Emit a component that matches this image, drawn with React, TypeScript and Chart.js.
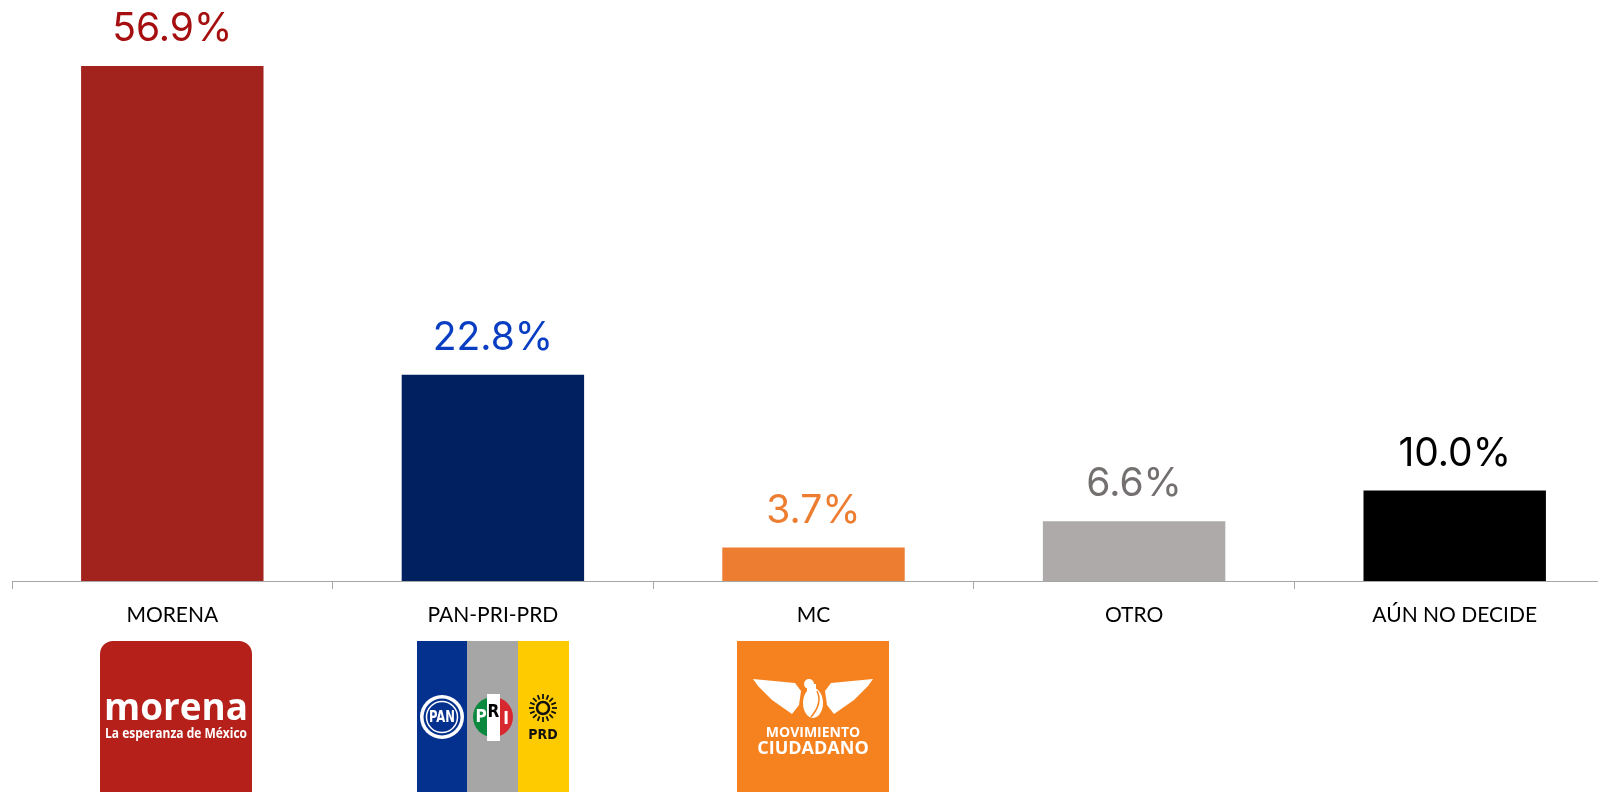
import React, { useEffect, useRef } from "react";
import { Chart, registerables } from "chart.js";

Chart.register(...registerables);

const categories = ["MORENA", "PAN-PRI-PRD", "MC", "OTRO", "AÚN NO DECIDE"];
const values = [56.9, 22.8, 3.7, 6.6, 10.0];
const barColors = ["#a2231e", "#012060", "#ed7d31", "#aeaaaa", "#000000"];
const valueColors = ["#a50f0f", "#0a3ec2", "#ed7d31", "#757070", "#000000"];

const VALUE_FONT = '39px Inter, Roboto, "Noto Sans", sans-serif';

function drawMorena(ctx: CanvasRenderingContext2D) {
  ctx.fillStyle = "#b5211a";
  ctx.beginPath();
  (ctx as any).roundRect(0, 0, 152, 175, 13);
  ctx.fill();
  ctx.fillStyle = "#ffffff";
  ctx.textAlign = "center";
  ctx.textBaseline = "alphabetic";
  ctx.font = 'bold 37px "Open Sans", sans-serif';
  ctx.fillText("morena", 76, 79, 144);
  ctx.font = 'bold 14px "Open Sans", sans-serif';
  ctx.fillText("La esperanza de México", 76, 97, 142);
}

function drawAlliance(ctx: CanvasRenderingContext2D) {
  ctx.fillStyle = "#05318e";
  ctx.fillRect(0, 0, 50, 160);
  ctx.fillStyle = "#a6a6a6";
  ctx.fillRect(50, 0, 51, 160);
  ctx.fillStyle = "#fdcb00";
  ctx.fillRect(101, 0, 51, 160);

  // PAN
  ctx.fillStyle = "#ffffff";
  ctx.beginPath();
  ctx.arc(25, 76, 22, 0, Math.PI * 2);
  ctx.fill();
  ctx.fillStyle = "#05318e";
  ctx.beginPath();
  ctx.arc(25, 76, 18.5, 0, Math.PI * 2);
  ctx.fill();
  ctx.strokeStyle = "#ffffff";
  ctx.lineWidth = 1.5;
  ctx.beginPath();
  ctx.arc(25, 76, 15.5, 0, Math.PI * 2);
  ctx.stroke();
  ctx.fillStyle = "#ffffff";
  ctx.textAlign = "center";
  ctx.textBaseline = "middle";
  ctx.font = 'bold 15px "Liberation Sans Narrow", "DejaVu Sans Condensed", sans-serif';
  ctx.fillText("PAN", 25, 77, 26);

  // PRI
  ctx.save();
  ctx.beginPath();
  ctx.arc(76, 76, 20, 0, Math.PI * 2);
  ctx.clip();
  ctx.fillStyle = "#0b8a3f";
  ctx.fillRect(56, 56, 14, 40);
  ctx.fillStyle = "#ffffff";
  ctx.fillRect(70, 56, 13, 40);
  ctx.fillStyle = "#d8282f";
  ctx.fillRect(83, 56, 14, 40);
  ctx.restore();
  ctx.fillStyle = "#ffffff";
  ctx.fillRect(70, 53, 13, 47);
  ctx.font = 'bold 17px "Liberation Sans Narrow", "DejaVu Sans Condensed", sans-serif';
  ctx.fillStyle = "#ffffff";
  ctx.fillText("P", 64, 77);
  ctx.fillStyle = "#000000";
  ctx.fillText("R", 76.5, 72);
  ctx.fillStyle = "#ffffff";
  ctx.fillText("I", 89, 79);

  // PRD sun
  ctx.strokeStyle = "#111111";
  ctx.lineWidth = 2.5;
  ctx.beginPath();
  ctx.arc(126, 67, 6, 0, Math.PI * 2);
  ctx.stroke();
  ctx.lineWidth = 1.8;
  for (let k = 0; k < 16; k++) {
    const a = (k / 16) * Math.PI * 2;
    ctx.beginPath();
    ctx.moveTo(126 + Math.cos(a) * 9, 67 + Math.sin(a) * 9);
    ctx.lineTo(126 + Math.cos(a) * 14, 67 + Math.sin(a) * 14);
    ctx.stroke();
  }
  ctx.fillStyle = "#111111";
  ctx.textBaseline = "alphabetic";
  ctx.font = 'bold 14px "Liberation Sans Narrow", "DejaVu Sans Condensed", sans-serif';
  ctx.fillText("PRD", 126, 98);
}

function drawMC(ctx: CanvasRenderingContext2D) {
  ctx.fillStyle = "#f5821f";
  ctx.fillRect(0, 0, 152, 160);
  ctx.fillStyle = "#ffffff";
  const wing = [
    [16, 38], [58, 42], [64, 50], [62, 64], [55, 73], [45, 66], [35, 59], [27, 51], [21, 45],
  ];
  for (const side of [1, -1]) {
    ctx.beginPath();
    wing.forEach(([x, y], k) => {
      const px = side === 1 ? x : 152 - x;
      if (k === 0) ctx.moveTo(px, y);
      else ctx.lineTo(px, y);
    });
    ctx.closePath();
    ctx.fill();
  }
  ctx.beginPath();
  ctx.ellipse(76, 62, 10, 15, 0, 0, Math.PI * 2);
  ctx.fill();
  ctx.beginPath();
  ctx.arc(72, 43, 5, 0, Math.PI * 2);
  ctx.fill();
  ctx.fillRect(70, 43, 9, 10);
  ctx.strokeStyle = "#f5821f";
  ctx.lineWidth = 1.5;
  ctx.beginPath();
  ctx.moveTo(80, 50);
  ctx.quadraticCurveTo(86, 62, 74, 76);
  ctx.stroke();
  ctx.textAlign = "center";
  ctx.textBaseline = "alphabetic";
  ctx.fillStyle = "#ffffff";
  ctx.font = 'bold 14px "Open Sans", sans-serif';
  ctx.fillText("MOVIMIENTO", 76, 96, 110);
  ctx.font = 'bold 18px "Open Sans", sans-serif';
  ctx.fillText("CIUDADANO", 76, 113, 118);
}

const logoDrawers: Array<[(ctx: CanvasRenderingContext2D) => void, number]> = [
  [drawMorena, -72],
  [drawAlliance, -76],
  [drawMC, -77],
];

const valueLabelPlugin = {
  id: "valueLabels",
  afterDatasetsDraw(chart: any) {
    const ctx = chart.ctx as CanvasRenderingContext2D;
    const meta = chart.getDatasetMeta(0);
    ctx.save();
    ctx.font = VALUE_FONT;
    ctx.textAlign = "center";
    ctx.textBaseline = "alphabetic";
    meta.data.forEach((bar: any, i: number) => {
      ctx.fillStyle = valueColors[i];
      ctx.fillText(values[i].toFixed(1) + "%", bar.x, bar.y - 25);
    });
    ctx.restore();
  },
};

const logoPlugin = {
  id: "logos",
  afterDraw(chart: any) {
    const ctx = chart.ctx as CanvasRenderingContext2D;
    const xs = chart.scales.x;
    logoDrawers.forEach(([fn, off], i) => {
      const cx = xs.getPixelForValue(i);
      ctx.save();
      ctx.translate(Math.round(cx + off), 641);
      fn(ctx);
      ctx.restore();
    });
  },
};

export default function App() {
  const ref = useRef<HTMLCanvasElement | null>(null);

  useEffect(() => {
    if (!ref.current) return;
    const chart = new Chart(ref.current, {
      type: "bar",
      data: {
        labels: categories,
        datasets: [
          {
            data: values,
            backgroundColor: barColors,
            borderWidth: 0,
            categoryPercentage: 1,
            barPercentage: 0.569,
          },
        ],
      },
      options: {
        animation: false,
        responsive: false,
        devicePixelRatio: 1,
        layout: { padding: { top: 38, left: 12, right: 0, bottom: 0 } },
        plugins: {
          legend: { display: false },
          tooltip: { enabled: false },
          title: { display: false },
        },
        scales: {
          y: {
            display: false,
            min: 0,
            max: 60,
          },
          x: {
            z: 1,
            afterFit: (scale: any) => {
              scale.height = 211;
            },
            border: { display: true, color: "#a6a6a6", width: 1 },
            grid: {
              display: true,
              drawOnChartArea: false,
              drawTicks: true,
              tickLength: 8,
              color: "#a6a6a6",
              offset: true,
            },
            ticks: {
              color: "#000000",
              padding: 14,
              font: { family: 'Lato, "Noto Sans", sans-serif', size: 21 },
              maxRotation: 0,
              autoSkip: false,
            },
          },
        },
      },
      plugins: [valueLabelPlugin, logoPlugin],
    });
    return () => chart.destroy();
  }, []);

  return (
    <div
      style={{
        position: "fixed",
        left: 0,
        top: 0,
        width: 1598,
        height: 792,
        overflow: "hidden",
        background: "#ffffff",
      }}
    >
      <canvas ref={ref} width={1615} height={792} style={{ display: "block" }} />
    </div>
  );
}
